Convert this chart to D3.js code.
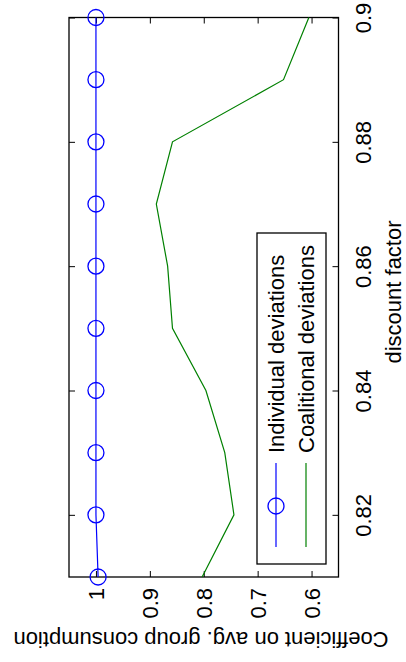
<!DOCTYPE html>
<html>
<head>
<meta charset="utf-8">
<script src="https://cdn.jsdelivr.net/npm/d3@7"></script>
<style>
  html, body { margin: 0; padding: 0; background: #fff; }
  svg { display: block; }
  text { font-family: "Liberation Sans", Arial, Helvetica, sans-serif; font-size: 22px; fill: #000; }
</style>
</head>
<body>
<svg id="chart" width="406" height="662"></svg>
<script>
// ---- data ----
const discountFactor = [0.81, 0.82, 0.83, 0.84, 0.85, 0.86, 0.87, 0.88, 0.89, 0.90];
const individualDeviations = [0.996, 1.0, 1.0, 1.0, 1.0, 1.0, 1.0, 1.0, 1.0, 1.0];
const coalitionalDeviations = [0.803, 0.744, 0.761, 0.796, 0.858, 0.867, 0.888, 0.858, 0.652, 0.605];
const discountTicks = [0.82, 0.84, 0.86, 0.88, 0.90];
const discountTickLabels = ["0.82", "0.84", "0.86", "0.88", "0.9"];
const coefTicks = [0.6, 0.7, 0.8, 0.9, 1.0];
const coefTickLabels = ["0.6", "0.7", "0.8", "0.9", "1"];
const seriesNames = ["Individual deviations", "Coalitional deviations"];

// ---- layout (figure is rotated 90deg counter-clockwise) ----
const L = 69, R = 338.5, T = 17.5, B = 577;
const svg = d3.select("#chart");

const x = d3.scaleLinear().domain([1.05, 0.55]).range([L, R]);   // coefficient (horizontal, increases leftward)
const y = d3.scaleLinear().domain([0.81, 0.90]).range([B, T]);    // discount factor (vertical, increases upward)

// axes with inward ticks on all four sides
const gB = svg.append("g").attr("transform", `translate(0,${B})`)
  .call(d3.axisBottom(x).tickValues(coefTicks).tickSize(-6)
    .tickFormat((d, i) => coefTickLabels[i]));
gB.selectAll(".tick text")
  .attr("x", 0).attr("y", 0).attr("dy", "0.35em")
  .attr("text-anchor", "end")
  .attr("transform", "translate(0,11) rotate(-90)");

svg.append("g").attr("transform", `translate(0,${T})`)
  .call(d3.axisTop(x).tickValues(coefTicks).tickSize(-6).tickFormat(""));

const gR = svg.append("g").attr("transform", `translate(${R},0)`)
  .call(d3.axisRight(y).tickValues(discountTicks).tickSize(-6)
    .tickFormat((d, i) => discountTickLabels[i]));
gR.selectAll(".tick text")
  .attr("x", 0).attr("y", 0).attr("dy", 0)
  .attr("text-anchor", "middle")
  .attr("transform", "translate(32,0) rotate(-90)");

svg.append("g").attr("transform", `translate(${L},0)`)
  .call(d3.axisLeft(y).tickValues(discountTicks).tickSize(-6).tickFormat(""));

svg.selectAll(".domain").remove();
svg.selectAll(".tick line").attr("stroke", "#000").attr("stroke-width", 1);
svg.selectAll(".tick text").style("font-size", "22px")
  .style("font-family", '"Liberation Sans", Arial, Helvetica, sans-serif').attr("fill", "#000");

// axes box
svg.append("rect").attr("x", L).attr("y", T).attr("width", R - L).attr("height", B - T)
  .attr("fill", "none").attr("stroke", "#000").attr("stroke-width", 1.3);

// series
const indData = discountFactor.map((d, i) => ({ d, v: individualDeviations[i] }));
const coalData = discountFactor.map((d, i) => ({ d, v: coalitionalDeviations[i] }));
const line = d3.line().x(p => x(p.v)).y(p => y(p.d));

svg.append("path").datum(coalData).attr("d", line)
  .attr("fill", "none").attr("stroke", "#008000").attr("stroke-width", 1.2);
svg.append("path").datum(indData).attr("d", line)
  .attr("fill", "none").attr("stroke", "#0000ff").attr("stroke-width", 1.2);
svg.append("g").selectAll("circle").data(indData).join("circle")
  .attr("cx", p => x(p.v)).attr("cy", p => y(p.d)).attr("r", 8)
  .attr("fill", "none").attr("stroke", "#0000ff").attr("stroke-width", 1.3);

// axis labels
svg.append("text").attr("text-anchor", "middle")
  .attr("transform", "translate(201,632) rotate(180)")
  .text("Coefficient on avg. group consumption");
svg.append("text").attr("text-anchor", "middle")
  .attr("transform", "translate(401,292) rotate(-90)")
  .text("discount factor");

// legend
const lg = svg.append("g");
lg.append("rect").attr("x", 257).attr("y", 233).attr("width", 69).attr("height", 331)
  .attr("fill", "#fff").attr("stroke", "#000").attr("stroke-width", 1.3);
const legendX = [276, 306];
const legendColors = ["#0000ff", "#008000"];
seriesNames.forEach((name, i) => {
  lg.append("line").attr("x1", legendX[i]).attr("x2", legendX[i]).attr("y1", 547).attr("y2", 463)
    .attr("stroke", legendColors[i]).attr("stroke-width", 1.2);
  if (i === 0) {
    lg.append("circle").attr("cx", legendX[i]).attr("cy", 506).attr("r", 8)
      .attr("fill", "none").attr("stroke", legendColors[i]).attr("stroke-width", 1.3);
  }
  lg.append("text").attr("text-anchor", "start").attr("dy", "0.35em")
    .attr("transform", `translate(${legendX[i]},453) rotate(-90)`)
    .text(name);
});
</script>
</body>
</html>
